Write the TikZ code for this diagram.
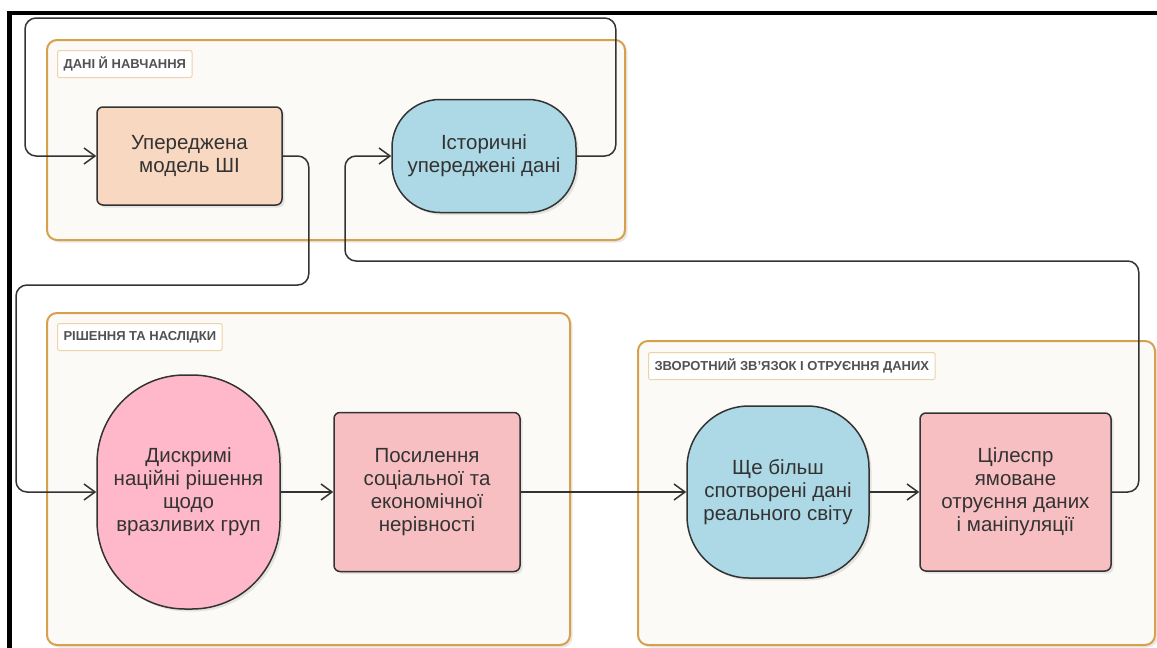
\documentclass[tikz,border=0pt]{standalone}
\usepackage{fontspec}
\setmainfont{Liberation Sans}
\usetikzlibrary{arrows.meta,shadows}

\definecolor{grpfill}{HTML}{FBFAF6}
\definecolor{grpline}{HTML}{D6A04C}
\definecolor{lblline}{HTML}{EFD3A8}
\definecolor{peach}{HTML}{F8D8C1}
\definecolor{skyblue}{HTML}{ADD8E6}
\definecolor{rose}{HTML}{FFB8C9}
\definecolor{salmonpink}{HTML}{F8BFC2}
\definecolor{ink}{HTML}{333333}

\begin{document}
\begin{tikzpicture}[x=1pt, y=-1pt,
    softshadow/.style={drop shadow={opacity=0.18, shadow xshift=2.5pt, shadow yshift=-2.5pt}},
    group/.style={draw=grpline, line width=2pt, fill=grpfill, rounded corners=10pt, softshadow},
    grouplabel/.style={draw=lblline, line width=1pt, fill=white, rounded corners=2pt, anchor=north west,
        font=\fontsize{13}{15}\selectfont\bfseries, text=ink!85, inner xsep=6pt, minimum height=27pt},
    box/.style={draw=ink, line width=1.5pt, align=center, text=ink, softshadow,
        font=\fontsize{20.5}{23}\selectfont, inner sep=0pt},
    flow/.style={draw=ink, line width=1.5pt, rounded corners=11pt, -{Straight Barb[length=11pt,width=16pt]}}
]
    \useasboundingbox (0,0) rectangle (1157,648);

    % Draw the frame
    \draw[line width=4.5pt] (9.5,648) -- (9.5,13) -- (1157,13);

    % Draw the three groups
    \draw[group] (47,40) rectangle (625,240);
    \draw[group] (47,313) rectangle (570,645);
    \draw[group] (638,341) rectangle (1155,645);
    \node[grouplabel] (lbldata) at (57,50) {ДАНІ Й НАВЧАННЯ};
    \node[grouplabel] (lbldecision) at (57,323) {РІШЕННЯ ТА НАСЛІДКИ};
    \node[grouplabel] (lblfeedback) at (648,352) {ЗВОРОТНИЙ ЗВ’ЯЗОК І ОТРУЄННЯ ДАНИХ};

    % Draw the steps
    \node[box, fill=peach, rounded corners=6pt, minimum width=185pt, minimum height=98pt]
        (model) at (189.5,156) {Упереджена\\модель ШІ};
    \node[box, fill=skyblue, rounded corners=48pt, minimum width=184pt, minimum height=113pt]
        (history) at (484,156) {Історичні\\упереджені дані};
    \node[box, fill=rose, rounded corners=88pt, minimum width=183pt, minimum height=234pt]
        (discrim) at (188.5,492) {Дискримі\\наційні рішення\\щодо\\вразливих груп};
    \node[box, fill=salmonpink, rounded corners=6pt, minimum width=186pt, minimum height=159pt]
        (inequal) at (427,492) {Посилення\\соціальної та\\економічної\\нерівності};
    \node[box, fill=skyblue, rounded corners=62pt, minimum width=182pt, minimum height=172pt]
        (skewed) at (778,492) {Ще більш\\спотворені дані\\реального світу};
    \node[box, fill=salmonpink, rounded corners=6pt, minimum width=191pt, minimum height=158pt]
        (poison) at (1015.5,492) {Цілеспр\\ямоване\\отруєння даних\\і маніпуляції};

    % Draw the connectors
    \draw[flow] (history.east) -- ++(39,0) |- (25,18) |- (model.west);
    \draw[flow] (model.east) -- ++(26,0) |- (16,285) |- (discrim.west);
    \draw[flow] (discrim) -- (inequal);
    \draw[flow] (inequal) -- (skewed);
    \draw[flow] (skewed) -- (poison);
    \draw[flow] (poison.east) -- ++(27,0) |- (345,261) |- (history.west);
\end{tikzpicture}
\end{document}
